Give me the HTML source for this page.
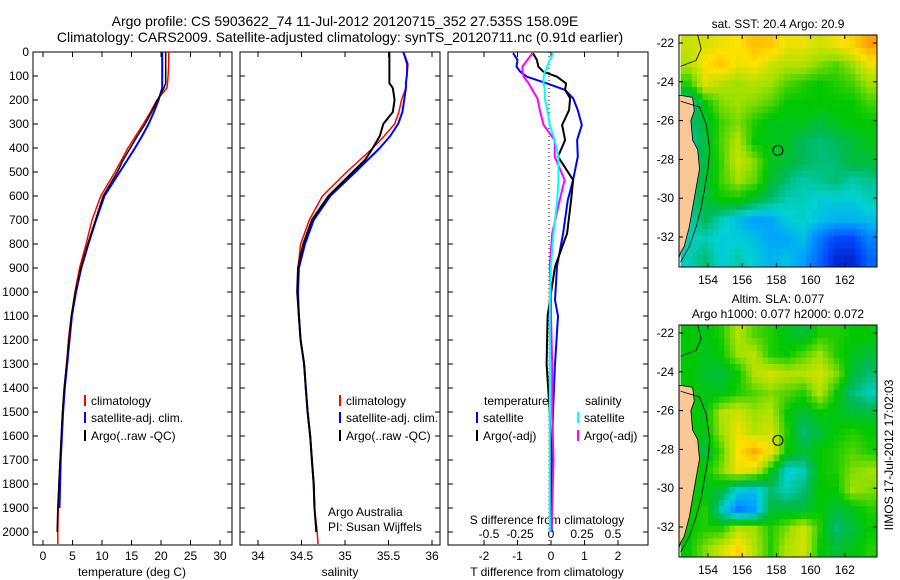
<!DOCTYPE html>
<html><head><meta charset="utf-8"><style>
html,body{margin:0;padding:0;background:#fff}
svg{display:block;font-family:"Liberation Sans",sans-serif}
</style></head><body>
<svg id="fig" width="900" height="580" viewBox="0 0 900 580" xmlns="http://www.w3.org/2000/svg">
<text x="345" y="26" font-size="14" text-anchor="middle">Argo profile: CS 5903622_74 11-Jul-2012 20120715_352 27.535S 158.09E</text>
<text x="340" y="42" font-size="14" text-anchor="middle">Climatology: CARS2009. Satellite-adjusted climatology: synTS_20120711.nc (0.91d earlier)</text>
</svg>
<script>
// ---------- data ----------
const depthsTS = [0,50,100,130,150,200,250,300,350,400,450,500,600,700,800,900,1000,1100,1200,1300,1400,1500,1600,1700,1800,1900,2000,2050];
const tempClim = [21.3,21.3,21.2,21.1,21.0,19.3,18.2,17.0,15.7,14.4,13.3,12.2,9.8,8.3,7.3,6.2,5.4,4.8,4.3,4.0,3.6,3.3,3.1,2.9,2.7,2.6,2.5,2.5];
const tempSat  = [20.2,20.2,20.2,20.2,20.2,19.6,18.8,17.9,16.8,15.6,14.3,13.0,10.4,9.0,7.7,6.5,5.6,4.9,4.5,4.1,3.7,3.4,3.2,3.0,2.9,2.8,null,null];
const tempArgo = [20.8,20.8,20.8,20.8,20.5,19.4,18.4,17.3,16.0,14.8,13.6,12.6,10.2,8.9,7.6,6.4,5.5,4.8,4.4,4.0,3.6,3.3,3.1,2.9,2.7,2.5,2.4,null];
const salClim = [35.67,35.71,35.71,35.70,35.70,35.65,35.62,35.57,35.45,35.32,35.17,35.02,34.74,34.59,34.49,34.46,34.46,34.47,34.49,34.53,34.55,34.57,34.60,34.62,34.64,34.65,34.68,34.69];
const salSat  = [35.67,35.72,35.71,35.70,35.70,35.68,35.66,35.61,35.52,35.40,35.26,35.12,34.83,34.64,34.54,34.47,34.46,34.47,34.49,34.53,34.55,34.57,34.60,34.62,34.64,34.65,null,null];
const salArgo = [35.51,35.51,35.51,35.51,35.55,35.57,35.55,35.44,35.40,35.32,35.23,35.09,34.81,34.62,34.52,34.46,34.45,34.47,34.49,34.53,34.55,34.57,34.60,34.62,34.64,34.65,34.67,null];
const depthsDiff = [5,33,61,82,103,131,158,193,242,304,367,436,533,617,756,894,1033,1100,1300,1500,1700,1900,2000];
const tDiffSat  = [-1.13,-1.0,-1.03,-0.92,-0.72,-0.12,0.42,0.66,0.8,0.92,0.78,0.8,0.66,0.5,0.36,0.18,0.12,0.21,0.12,0.06,0.03,0.02,0.02];
const tDiffArgo = [-0.54,-0.42,-0.38,-0.23,0.18,0.45,0.42,0.57,0.54,0.33,0.42,0.21,0.66,0.6,0.48,0.12,-0.03,-0.1,-0.13,-0.04,0.0,-0.02,-0.02];
const sDiffSat  = [0.02,-0.01,-0.03,-0.05,-0.06,-0.06,-0.05,-0.05,-0.03,-0.01,0.03,0.06,0.06,0.05,0.02,0.0,-0.01,-0.01,-0.01,-0.01,-0.01,-0.01,-0.01];
const sDiffArgo = [-0.15,-0.19,-0.23,-0.23,-0.22,-0.18,-0.15,-0.11,-0.09,-0.06,0.03,0.03,0.11,0.07,0.01,-0.01,0.0,0.0,0.01,0.01,0.02,0.01,0.0];
const depthTicks = [0,100,200,300,400,500,600,700,800,900,1000,1100,1200,1300,1400,1500,1600,1700,1800,1900,2000];
const tempTicks = [0,5,10,15,20,25,30];
const salTicks = [34,34.5,35,35.5,36];
const tDiffTicks = [-2,-1,0,1,2];
const sDiffTicks = [-0.5,-0.25,0,0.25,0.5];
const lonTicks = [154,156,158,160,162];
const latTicks = [-22,-24,-26,-28,-30,-32];
const argoLon = 158.09, argoLat = -27.535;
const sstGrid = [
[.74,.76,.78,.8,.85,.84,.78,.78,.75,.78,.82,.9],
[.72,.8,.84,.78,.8,.75,.72,.72,.68,.65,.7,.78],
[.62,.76,.72,.7,.72,.7,.65,.62,.6,.62,.64,.7],
[.45,.6,.68,.7,.68,.65,.6,.6,.6,.6,.6,.64],
[.5,.55,.64,.68,.62,.58,.58,.58,.55,.58,.6,.6],
[.45,.55,.65,.72,.6,.58,.57,.52,.5,.52,.55,.58],
[.5,.55,.64,.74,.68,.58,.55,.52,.5,.5,.55,.55],
[.5,.55,.64,.7,.66,.56,.5,.46,.48,.5,.46,.48],
[.48,.55,.6,.6,.55,.5,.45,.45,.42,.42,.42,.45],
[.45,.52,.45,.4,.35,.36,.42,.44,.4,.38,.38,.4],
[.45,.45,.42,.42,.4,.36,.36,.4,.28,.2,.2,.3],
[.45,.5,.42,.46,.42,.38,.4,.35,.25,.12,.12,.25]];
const slaGrid = [
[.6,.58,.62,.72,.65,.62,.58,.55,.62,.62,.6,.6],
[.6,.58,.6,.7,.72,.62,.6,.65,.7,.62,.58,.55],
[.6,.56,.55,.6,.72,.75,.72,.72,.75,.68,.55,.5],
[.6,.58,.58,.62,.65,.68,.65,.62,.72,.6,.5,.45],
[.6,.58,.72,.75,.7,.72,.6,.55,.6,.58,.55,.55],
[.6,.58,.7,.78,.72,.75,.62,.5,.55,.6,.62,.6],
[.6,.55,.65,.8,.88,.78,.6,.55,.6,.62,.65,.62],
[.6,.6,.68,.78,.75,.6,.42,.45,.6,.62,.68,.7],
[.6,.58,.55,.42,.4,.5,.45,.5,.6,.6,.7,.68],
[.6,.62,.45,.3,.35,.55,.55,.55,.6,.55,.58,.62],
[.6,.62,.62,.72,.7,.62,.68,.75,.62,.5,.55,.6],
[.6,.68,.75,.82,.72,.62,.72,.75,.6,.55,.58,.62]];
const coastLon = [152.4,153.1,153.2,153.0,153.1,153.4,153.5,153.3,153.1,152.9,152.6,152.4];
const coastLat = [-24.7,-24.8,-25.5,-26.0,-27.0,-27.5,-28.5,-29.5,-30.5,-31.5,-32.5,-32.8];
const contourLon = [152.4,153.5,153.9,154.1,154.0,153.8,153.6,153.3,152.9,152.4];
const contourLat = [-25.0,-25.3,-26.2,-27.5,-28.5,-29.5,-30.5,-31.5,-32.5,-33.3];

// ---------- helpers ----------
const NS="http://www.w3.org/2000/svg";
const svg=document.getElementById('fig');
function mk(tag,attrs,parent){const e=document.createElementNS(NS,tag);for(const k in attrs)e.setAttribute(k,attrs[k]);(parent||svg).appendChild(e);return e;}
const yTop=52, pxPerM=0.24;
const yDepth=d=>yTop+d*pxPerM;
const xTemp=t=>43+t*5.9;
const xSal=s=>258+(s-34)*87;
const xTd=t=>551+t*33.5;
const xSd=s=>551+s*124;
const panels=[{x0:33,x1:232,name:'temperature-panel'},{x0:240,x1:440,name:'salinity-panel'},{x0:448,x1:648,name:'difference-panel'}];
const yBot=545;

function profile(depths,vals,xf,color,w,name,g){
  const pts=[];depths.forEach((d,i)=>{if(vals[i]!==null&&vals[i]!==undefined)pts.push(xf(vals[i]).toFixed(1)+','+yDepth(d).toFixed(1));});
  const p=mk('polyline',{points:pts.join(' '),fill:'none',stroke:color,'stroke-width':w,'stroke-linejoin':'round'},g);
  
  
}

panels.forEach((p,pi)=>{
  const g=mk('g',{});
  
  
  const r=mk('rect',{x:p.x0,y:yTop,width:p.x1-p.x0,height:yBot-yTop,fill:'#fff',stroke:'#000','stroke-width':1},g);
  
  
  depthTicks.forEach(d=>{
    const y=yDepth(d);
    mk('line',{x1:p.x0,x2:p.x0+5,y1:y,y2:y,stroke:'#000'},g);
    mk('line',{x1:p.x1-5,x2:p.x1,y1:y,y2:y,stroke:'#000'},g);
    if(pi===0){const t=mk('text',{x:p.x0-4,y:y+4,'font-size':12,'text-anchor':'end'},g);t.textContent=d;
      
      }
  });
});
function xticks(ticks,xf,yl,fmt,name){
  ticks.forEach(v=>{const x=xf(v);
    mk('line',{x1:x,x2:x,y1:yTop,y2:yTop+5,stroke:'#000'});
    mk('line',{x1:x,x2:x,y1:yBot-5,y2:yBot,stroke:'#000'});
    const t=mk('text',{x:x,y:yl,'font-size':12,'text-anchor':'middle'});t.textContent=fmt(v);
    
    });
}
xticks(tempTicks,xTemp,560,v=>v,'temperature-tick-label');
xticks(salTicks,xSal,560,v=>v,'salinity-tick-label');
xticks(tDiffTicks,xTd,560,v=>v,'t-difference-tick-label');
sDiffTicks.forEach(v=>{const t=mk('text',{x:xSd(v),y:538,'font-size':12,'text-anchor':'middle'});t.textContent=v;
  
  });
function label(x,y,s,name,anchor,fs){const t=mk('text',{x:x,y:y,'font-size':fs||12,'text-anchor':anchor||'middle'});t.textContent=s;
  
  return t;}
label(132,576,'temperature (deg C)','temperature-axis-title');
label(340,576,'salinity','salinity-axis-title');
label(547,576,'T difference from climatology','t-difference-axis-title');
label(547,524,'S difference from climatology','s-difference-axis-title');
label(328,516,'Argo Australia','institution-label','start');
label(328,531,'PI: Susan Wijffels','pi-label','start');
const zl=mk('line',{x1:549,x2:549,y1:yTop,y2:yBot,stroke:'#000','stroke-dasharray':'1,3'});



const gS=mk('g',{});


profile(depthsTS,tempClim,xTemp,'#ff0000',1.5,'temp-climatology-line',gS);
profile(depthsTS,tempSat,xTemp,'#0000ff',2,'temp-satellite-line',gS);
profile(depthsTS,tempArgo,xTemp,'#000',1.5,'temp-argo-line',gS);
profile(depthsTS,salClim,xSal,'#ff0000',1.5,'sal-climatology-line',gS);
profile(depthsTS,salSat,xSal,'#0000ff',2,'sal-satellite-line',gS);
profile(depthsTS,salArgo,xSal,'#000',2,'sal-argo-line',gS);
profile(depthsDiff,tDiffSat,xTd,'#0000ff',2,'t-diff-satellite-line',gS);
profile(depthsDiff,tDiffArgo,xTd,'#000',2,'t-diff-argo-line',gS);
profile(depthsDiff,sDiffArgo,xSd,'#ff00ff',2,'s-diff-argo-line',gS);
profile(depthsDiff,sDiffSat,xSd,'#00ffff',2,'s-diff-satellite-line',gS);

function legItem(x,y,color,txt,name){
  const b=mk('line',{x1:x,x2:x,y1:y-10,y2:y+1,stroke:color,'stroke-width':2});
  
  
  label(x+6,y,txt,name,'start');
}
legItem(85,405,'#ff0000','climatology','legend-climatology');
legItem(85,422,'#0000ff','satellite-adj. clim.','legend-satellite');
legItem(85,440,'#000','Argo(..raw -QC)','legend-argo');
legItem(340,405,'#ff0000','climatology','legend2-climatology');
legItem(340,422,'#0000ff','satellite-adj. clim.','legend2-satellite');
legItem(340,440,'#000','Argo(..raw -QC)','legend2-argo');
label(484,405,'temperature','legend-temperature-heading','start');
label(585,405,'salinity','legend-salinity-heading','start');
legItem(477,422,'#0000ff','satellite','legend-t-satellite');
legItem(477,440,'#000','Argo(-adj)','legend-t-argo');
legItem(578,422,'#00ffff','satellite','legend-s-satellite');
legItem(578,440,'#ff00ff','Argo(-adj)','legend-s-argo');

// ---------- maps ----------
const cstops=[[0,[0,0,140]],[0.2,[0,70,255]],[0.35,[0,160,255]],[0.43,[0,210,210]],[0.52,[0,185,90]],[0.6,[0,200,0]],[0.7,[160,225,0]],[0.8,[255,225,0]],[0.9,[255,160,0]],[1,[255,90,0]]];
function cmap(v){for(let i=1;i<cstops.length;i++){if(v<=cstops[i][0]){const a=cstops[i-1],b=cstops[i],f=(v-a[0])/(b[0]-a[0]);const c=a[1].map((x,k)=>Math.round(x+(b[1][k]-x)*f));return 'rgb('+c.join(',')+')';}}return 'rgb(255,90,0)';}
function sample(grid,r,c){const nr=grid.length,nc=grid[0].length;
  r=Math.max(0,Math.min(nr-1,r));c=Math.max(0,Math.min(nc-1,c));
  const r0=Math.floor(r),c0=Math.floor(c),r1=Math.min(nr-1,r0+1),c1=Math.min(nc-1,c0+1),fr=r-r0,fc=c-c0;
  return grid[r0][c0]*(1-fr)*(1-fc)+grid[r0][c1]*(1-fr)*fc+grid[r1][c0]*fr*(1-fc)+grid[r1][c1]*fr*fc;}
const lon0=152.4,lon1=163.9,lat0=-21.6,lat1=-33.6;
function drawMap(y0,y1,grid,name,title){
  const x0=679,x1=877;
  const lx=lon=>708+(lon-154)*17.1;
  const ly=lat=>y0+8+(-22-lat)*19.4;
  const g=mk('g',{});
  
  
  const cp=mk('clipPath',{id:name+'-clip'},g);
  mk('rect',{x:x0,y:y0,width:x1-x0,height:y1-y0},cp);
  const gi=mk('g',{'clip-path':'url(#'+name+'-clip)'},g);
  const nr=grid.length,nc=grid[0].length,sub=3;
  const lonStep=(lon1-lon0)/(nc*sub),latStep=(lat0-lat1)/(nr*sub);
  for(let r=0;r<nr*sub;r++)for(let c=0;c<nc*sub;c++){
    const v=sample(grid,(r+0.5)/sub-0.5,(c+0.5)/sub-0.5);
    const xa=lx(lon0+c*lonStep),xb=lx(lon0+(c+1)*lonStep),ya=ly(lat0-r*latStep),yb=ly(lat0-(r+1)*latStep);
    const cell=mk('rect',{x:xa.toFixed(1),y:ya.toFixed(1),width:(xb-xa+0.6).toFixed(1),height:(yb-ya+0.6).toFixed(1),fill:cmap(v)},gi);
    
    
  }
  const lp=coastLon.map((lo,i)=>lx(lo).toFixed(1)+','+ly(coastLat[i]).toFixed(1));
  lp.push(lx(152.0)+','+ly(-34)); lp.push(lx(152.0)+','+ly(-24.7));
  const land=mk('polygon',{points:lp.join(' '),fill:'#f9c896',stroke:'#000','stroke-width':0.8},gi);
  
  
  const cl=mk('polyline',{points:contourLon.map((lo,i)=>lx(lo).toFixed(1)+','+ly(contourLat[i]).toFixed(1)).join(' '),fill:'none',stroke:'#000','stroke-width':0.8},gi);
  
  
  const cl2=mk('polyline',{points:[[152.4,-23.2],[153.3,-22.9],[153.6,-22.3],[153.4,-21.6]].map(p=>lx(p[0])+','+ly(p[1])).join(' '),fill:'none',stroke:'#000','stroke-width':0.8},gi);
  
  
  const circ=mk('circle',{cx:lx(argoLon),cy:ly(argoLat),r:5,fill:'none',stroke:'#000','stroke-width':1},g);
  
  
  const fr=mk('rect',{x:x0,y:y0,width:x1-x0,height:y1-y0,fill:'none',stroke:'#000'},g);
  
  
  lonTicks.forEach(lo=>{const x=lx(lo);mk('line',{x1:x,x2:x,y1:y0,y2:y0+4,stroke:'#000'},g);mk('line',{x1:x,x2:x,y1:y1-4,y2:y1,stroke:'#000'},g);
    label(x,y1+17,lo,'longitude-tick-label');});
  latTicks.forEach(la=>{const y=ly(la);mk('line',{x1:x0,x2:x0+4,y1:y,y2:y,stroke:'#000'},g);mk('line',{x1:x1-4,x2:x1,y1:y,y2:y,stroke:'#000'},g);
    label(x0-5,y+4,la,'latitude-tick-label','end');});
  title.forEach((t,i)=>label(778,y0-(title.length-1-i)*15-7,t,'map-title'));
}
drawMap(35,267,sstGrid,'sst-map',['sat. SST: 20.4  Argo: 20.9']);
drawMap(325,557,slaGrid,'sla-map',['Altim. SLA: 0.077','Argo h1000: 0.077 h2000: 0.072']);
const ts=label(0,0,'IIMOS 17-Jul-2012 17:02:03','timestamp-label');
ts.setAttribute('transform','translate(893,455) rotate(-90)');
</script>
</body></html>
